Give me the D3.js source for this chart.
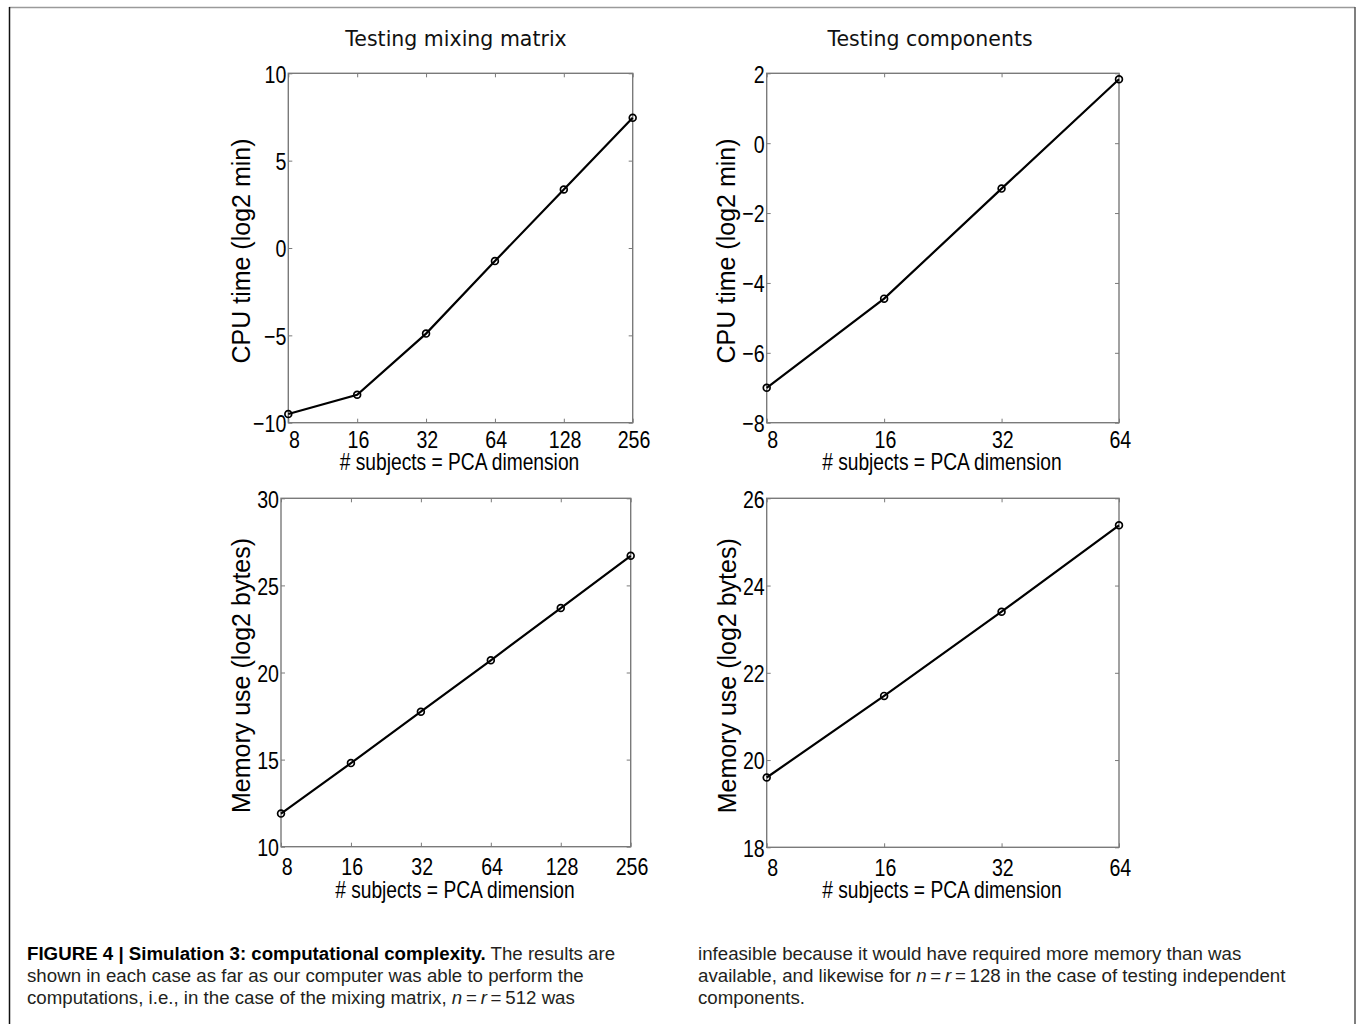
<!DOCTYPE html>
<html>
<head>
<meta charset="utf-8">
<script src="https://cdn.jsdelivr.net/npm/d3@7"></script>
<style>
  body { margin: 0; background: #fff; }
  svg { display: block; }
  .tick text { font-family: "Liberation Sans", Arial, sans-serif; font-size: 24.5px; fill: #000; }
  .axis-label { font-family: "Liberation Sans", Arial, sans-serif; font-size: 24px; fill: #000; }
  .y-label { font-family: "Liberation Sans", Arial, sans-serif; font-size: 25px; fill: #000; }
  .col-title { font-family: "DejaVu Sans", sans-serif; font-size: 20.5px; fill: #111; }
  .caption { font-family: "Liberation Sans", Arial, sans-serif; font-size: 18.7px; fill: #231f20; }
</style>
</head>
<body>
<svg id="fig" width="1357" height="1024"></svg>
<script>
// Simulation 3: computational cost vs. number of subjects (= PCA dimension)
const subjectsMixing = [8, 16, 32, 64, 128, 256];
const cpuMixing      = [-9.5, -8.4, -4.9, -0.75, 3.35, 7.45];
const memMixing      = [11.9, 14.8, 17.75, 20.7, 23.7, 26.7];

const subjectsComp = [8, 16, 32, 64];
const cpuComp      = [-7.0, -4.45, -1.3, 1.83];
const memComp      = [19.6, 21.47, 23.4, 25.38];

const cpuMixingTicks = [-10, -5, 0, 5, 10];
const cpuCompTicks   = [-8, -6, -4, -2, 0, 2];
const memMixingTicks = [10, 15, 20, 25, 30];
const memCompTicks   = [18, 20, 22, 24, 26];

const columnTitles = ["Testing mixing matrix", "Testing components"];
const xAxisLabel = "# subjects = PCA dimension";
const cpuAxisLabel = "CPU time (log2 min)";
const memAxisLabel = "Memory use (log2 bytes)";

const NARROW = 0.8; // horizontal squeeze for tick and x-axis lettering

const svg = d3.select("#fig");
svg.append("rect").attr("width", 1357).attr("height", 1024).attr("fill", "#fff");

// outer frame of the figure
svg.append("line").attr("x1", 9).attr("x2", 1355).attr("y1", 7.5).attr("y2", 7.5)
  .attr("stroke", "#9a9a9a").attr("stroke-width", 1.5);
svg.append("line").attr("x1", 9.5).attr("x2", 9.5).attr("y1", 7).attr("y2", 1024)
  .attr("stroke", "#111").attr("stroke-width", 1.5);
svg.append("line").attr("x1", 1355).attr("x2", 1355).attr("y1", 7).attr("y2", 1024)
  .attr("stroke", "#555").attr("stroke-width", 1.5);

const minus = s => String(s).replace("-", "\u2212");

// squeeze text horizontally around its own anchor point
function narrow(sel, sx) {
  sel.each(function () {
    const t = d3.select(this);
    const x = +t.attr("x") || 0, y = +t.attr("y") || 0;
    t.attr("x", 0).attr("y", 0)
      .attr("transform", `translate(${x},${y}) scale(${sx},1)`);
  });
}

const panels = [
  { x0: 288.3, x1: 632.7, y0: 73.3, y1: 422.7, xs: subjectsMixing, ys: cpuMixing,
    yDomain: [-10, 10], yTicks: cpuMixingTicks, yLabel: cpuAxisLabel, labelX: 250,
    xTickDy: 25.5, xLabelDy: 47.5, title: columnTitles[0], titleX: 456 },
  { x0: 766.7, x1: 1119, y0: 73.3, y1: 422.7, xs: subjectsComp, ys: cpuComp,
    yDomain: [-8, 2], yTicks: cpuCompTicks, yLabel: cpuAxisLabel, labelX: 735,
    xTickDy: 25.5, xLabelDy: 47.5, title: columnTitles[1], titleX: 930 },
  { x0: 281, x1: 630.7, y0: 498.3, y1: 846.7, xs: subjectsMixing, ys: memMixing,
    yDomain: [10, 30], yTicks: memMixingTicks, yLabel: memAxisLabel, labelX: 250,
    xTickDy: 28.5, xLabelDy: 51 },
  { x0: 766.7, x1: 1119, y0: 498.3, y1: 847.3, xs: subjectsComp, ys: memComp,
    yDomain: [18, 26], yTicks: memCompTicks, yLabel: memAxisLabel, labelX: 736,
    xTickDy: 28.5, xLabelDy: 51 }
];

panels.forEach(p => {
  const x = d3.scaleLog().base(2).domain(d3.extent(p.xs)).range([p.x0, p.x1]);
  const y = d3.scaleLinear().domain(p.yDomain).range([p.y1, p.y0]);
  const g = svg.append("g");

  // axes box
  g.append("rect").attr("x", p.x0).attr("y", p.y0)
    .attr("width", p.x1 - p.x0).attr("height", p.y1 - p.y0)
    .attr("fill", "none").attr("stroke", "#7a7a7a").attr("stroke-width", 1.4);

  const tickLen = 4;
  // left axis with labels, inward ticks
  const left = g.append("g").attr("transform", `translate(${p.x0},0)`)
    .call(d3.axisLeft(y).tickValues(p.yTicks).tickSize(-tickLen).tickPadding(2)
      .tickFormat(d => minus(d)));
  left.select(".domain").remove();
  left.selectAll("line").attr("stroke", "#7a7a7a");
  left.selectAll("text").attr("dy", "0.36em");
  narrow(left.selectAll("text"), NARROW);

  // mirrored ticks on the right
  const right = g.append("g").attr("transform", `translate(${p.x1},0)`)
    .call(d3.axisRight(y).tickValues(p.yTicks).tickSize(-tickLen).tickFormat(""));
  right.select(".domain").remove();
  right.selectAll("line").attr("stroke", "#7a7a7a");

  // bottom axis with labels
  const bottom = g.append("g").attr("transform", `translate(0,${p.y1})`)
    .call(d3.axisBottom(x).tickValues(p.xs).tickSize(-tickLen).tickFormat(d => d));
  bottom.select(".domain").remove();
  bottom.selectAll("line").attr("stroke", "#7a7a7a");
  bottom.selectAll("text").attr("y", p.xTickDy).attr("dy", 0)
    .attr("dx", (d, i) => i === 0 ? 7 : 1);
  narrow(bottom.selectAll("text"), NARROW);

  // mirrored ticks on top
  const top = g.append("g").attr("transform", `translate(0,${p.y0})`)
    .call(d3.axisTop(x).tickValues(p.xs).tickSize(-tickLen).tickFormat(""));
  top.select(".domain").remove();
  top.selectAll("line").attr("stroke", "#7a7a7a");

  // series line and open circle markers
  const pts = p.xs.map((v, i) => [v, p.ys[i]]);
  g.append("path").datum(pts)
    .attr("d", d3.line().x(d => x(d[0])).y(d => y(d[1])))
    .attr("fill", "none").attr("stroke", "#000").attr("stroke-width", 2.2);
  g.selectAll("circle.mk").data(pts).join("circle").attr("class", "mk")
    .attr("cx", d => x(d[0])).attr("cy", d => y(d[1])).attr("r", 3.4)
    .attr("fill", "none").attr("stroke", "#000").attr("stroke-width", 1.7);

  // axis labels
  const xl = g.append("text").attr("class", "axis-label")
    .attr("x", (p.x0 + p.x1) / 2 - 1).attr("y", p.y1 + p.xLabelDy)
    .attr("text-anchor", "middle").text(xAxisLabel);
  narrow(xl, NARROW);
  g.append("text").attr("class", "y-label")
    .attr("transform", `translate(${p.labelX},${(p.y0 + p.y1) / 2 + 3}) rotate(-90)`)
    .attr("text-anchor", "middle").text(p.yLabel);

  if (p.title) {
    g.append("text").attr("class", "col-title")
      .attr("x", p.titleX).attr("y", 46).attr("text-anchor", "middle").text(p.title);
  }
});

// figure caption, two columns
const capLeft = [
  [["FIGURE 4 | Simulation 3: computational complexity.", "bold"], [" The results are", ""]],
  [["shown in each case as far as our computer was able to perform the", ""]],
  [["computations, i.e., in the case of the mixing matrix, ", ""], ["n", "it"], ["\u2009=\u2009", ""], ["r", "it"], ["\u2009=\u2009512 was", ""]]
];
const capRight = [
  [["infeasible because it would have required more memory than was", ""]],
  [["available, and likewise for ", ""], ["n", "it"], ["\u2009=\u2009", ""], ["r", "it"], ["\u2009=\u2009128 in the case of testing independent", ""]],
  [["components.", ""]]
];
const baselines = [960, 982, 1004];

function caption(lines, x0) {
  lines.forEach((parts, i) => {
    const t = svg.append("text").attr("class", "caption").attr("x", x0).attr("y", baselines[i]);
    parts.forEach(([s, st]) => {
      const ts = t.append("tspan").text(s);
      if (st === "bold") ts.attr("font-weight", "bold").attr("fill", "#000");
      if (st === "it") ts.attr("font-style", "italic");
    });
  });
}
caption(capLeft, 27);
caption(capRight, 698);
</script>
</body>
</html>
